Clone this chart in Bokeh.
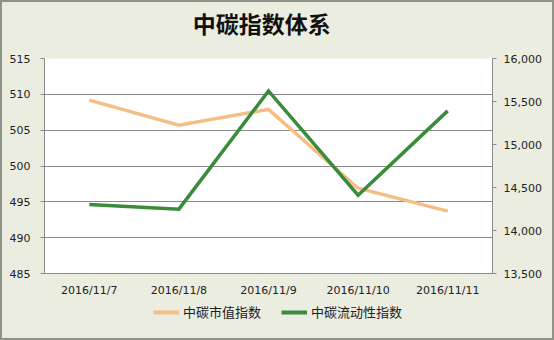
from bokeh.plotting import figure
from bokeh.layouts import column
from bokeh.models import (FactorRange, Range1d, LinearAxis, FixedTicker, NumeralTickFormatter,
                          Legend, LegendItem, ColumnDataSource, Label)
from bokeh.embed import file_html
from bokeh.resources import INLINE

title_text = "中碳指数体系"
dates = ["2016/11/7", "2016/11/8", "2016/11/9", "2016/11/10", "2016/11/11"]
market_value_index = [509.2, 505.7, 507.9, 496.9, 493.7]
liquidity_index = [14302, 14248, 15623, 14410, 15391]
series_names = ["中碳市值指数", "中碳流动性指数"]
left_ticks = [485, 490, 495, 500, 505, 510, 515]
right_ticks = [13500, 14000, 14500, 15000, 15500, 16000]

BG = "#ECEDE1"
GRID = "#8A8A8A"
FONT = "DejaVu Sans"
CJK = "Noto Sans CJK SC"
C1 = "#F5BE86"
C2 = "#3A8B3A"

src = ColumnDataSource(dict(x=dates, mv=market_value_index, liq=liquidity_index))


def strip(h):
    f = figure(width=550, height=h, x_range=Range1d(0, 1), y_range=Range1d(0, 1),
               output_backend="svg", toolbar_location=None,
               min_border_left=0, min_border_right=0, min_border_top=0, min_border_bottom=0)
    f.axis.visible = False
    f.grid.visible = False
    f.outline_line_color = None
    f.background_fill_color = BG
    f.border_fill_color = BG
    return f


# title strip
tf = strip(46)
tf.add_layout(Label(x=0.485, y=0.55, text=title_text, text_align="center", text_baseline="middle",
                    text_font=CJK, text_font_size="23px", text_font_style="bold",
                    text_color="#111111"))

# main chart
p = figure(width=550, height=251, x_range=FactorRange(*dates, range_padding=0),
           y_range=Range1d(485, 515), output_backend="svg", toolbar_location=None,
           min_border_left=42, min_border_right=60, min_border_top=10, min_border_bottom=26)
p.extra_y_ranges = {"right": Range1d(13500, 16000)}
p.background_fill_color = "white"
p.border_fill_color = BG
p.outline_line_color = None

p.yaxis.ticker = FixedTicker(ticks=left_ticks)
ra = LinearAxis(y_range_name="right", ticker=FixedTicker(ticks=right_ticks),
                formatter=NumeralTickFormatter(format="0,0"))
p.add_layout(ra, "right")

for ax, so in [(p.yaxis[0], 10), (ra, 7)]:
    ax.axis_line_color = GRID
    ax.major_tick_line_color = GRID
    ax.major_tick_in = 0
    ax.major_tick_out = 4
    ax.minor_tick_line_color = None
    ax.major_label_text_font = FONT
    ax.major_label_text_font_size = "11px"
    ax.major_label_text_color = "#222222"
    ax.major_label_standoff = so

p.xaxis.axis_line_color = GRID
p.xaxis.major_tick_line_color = None
p.xaxis.major_tick_in = 0
p.xaxis.major_tick_out = 0
p.xaxis.minor_tick_line_color = None
p.xaxis.major_label_text_font = FONT
p.xaxis.major_label_text_font_size = "11px"
p.xaxis.major_label_text_color = "#222222"
p.xaxis.major_label_standoff = 10

p.xgrid.grid_line_color = None
p.ygrid.grid_line_color = GRID
p.ygrid.grid_line_width = 1

p.line("x", "mv", source=src, line_color=C1, line_width=3.5, line_join="miter")
p.line("x", "liq", source=src, y_range_name="right", line_color=C2,
       line_width=3.5, line_join="miter")

# legend strip (same series, drawn outside its visible range so only the key shows)
lg = figure(width=550, height=39, x_range=FactorRange(*dates), y_range=Range1d(0, 1),
            output_backend="svg", toolbar_location=None,
            min_border_left=0, min_border_right=0, min_border_top=0, min_border_bottom=0)
lg.axis.visible = False
lg.grid.visible = False
lg.outline_line_color = None
lg.background_fill_color = BG
lg.border_fill_color = BG
k1 = lg.line("x", "mv", source=src, line_color=C1, line_width=4)
k2 = lg.line("x", "liq", source=src, line_color=C2, line_width=4)
legend = Legend(items=[LegendItem(label=series_names[0], renderers=[k1]),
                       LegendItem(label=series_names[1], renderers=[k2])],
                orientation="horizontal", location=(109, 17),
                background_fill_alpha=0, border_line_color=None,
                label_text_font=CJK, label_text_font_size="13px", label_text_color="#222222",
                glyph_width=26, glyph_height=14, label_standoff=4, spacing=20,
                padding=0, margin=0)
lg.add_layout(legend, "center")

layout = column(tf, p, lg, spacing=0)
layout.styles = {"border": "2px solid #8F9286", "background-color": BG}

open("out.html", "w").write(file_html(layout, INLINE))
